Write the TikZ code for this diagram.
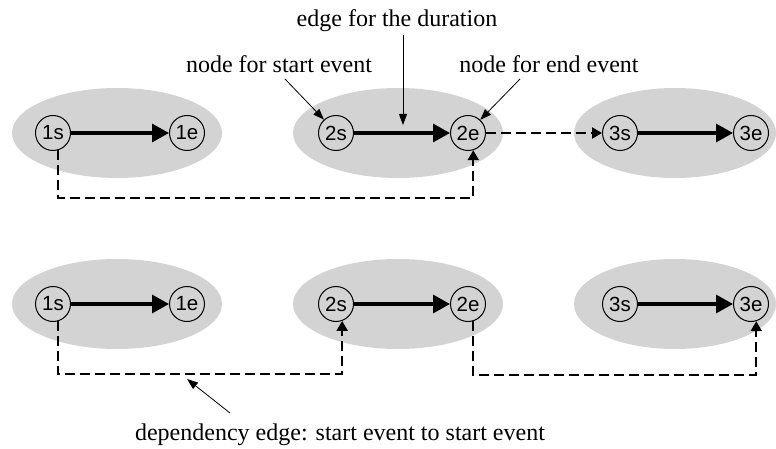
\documentclass[tikz,border=0pt]{standalone}
\usepackage{fontspec}
\setmainfont{Liberation Serif}
\newfontfamily\labfont{Liberation Sans}
\usetikzlibrary{arrows.meta}
\definecolor{blobgray}{RGB}{211,211,211}
\tikzset{
  blob/.style={fill=blobgray, draw=none},
  ev/.style={circle, draw=black, line width=1pt, minimum size=35pt, inner sep=0pt, font=\labfont\fontsize{20.5}{20.5}\selectfont},
  dur/.style={line width=3.2pt, -{Triangle[length=17pt,width=18pt]}},
  dep/.style={line width=2.2pt, dash pattern=on 10pt off 5pt, -{Triangle[length=10pt,width=11pt]}},
  ann/.style={line width=0.8pt, -{Triangle[length=11pt,width=8pt]}},
  anntext/.style={anchor=base, inner sep=0pt, font=\fontsize{24}{24}\selectfont}
}
\begin{document}
\begin{tikzpicture}[x=1pt,y=-1pt]
\useasboundingbox (0,0) rectangle (776,449);
% ellipses
\fill[blob] (117,133) ellipse [x radius=105, y radius=45];
\fill[blob] (398,133) ellipse [x radius=105, y radius=45];
\fill[blob] (675,133) ellipse [x radius=101, y radius=45];
\fill[blob] (117,304) ellipse [x radius=105, y radius=45];
\fill[blob] (398,304) ellipse [x radius=105, y radius=45];
\fill[blob] (675,304) ellipse [x radius=101, y radius=45];
% top row nodes
\node[ev] (t1s) at (53,133) {1s};
\node[ev] (t1e) at (187,133) {1e};
\node[ev] (t2s) at (336,133) {2s};
\node[ev] (t2e) at (468,133) {2e};
\node[ev] (t3s) at (620,133) {3s};
\node[ev] (t3e) at (751,133) {3e};
% bottom row nodes
\node[ev] (b1s) at (53,304) {1s};
\node[ev] (b1e) at (187,304) {1e};
\node[ev] (b2s) at (336,304) {2s};
\node[ev] (b2e) at (468,304) {2e};
\node[ev] (b3s) at (620,304) {3s};
\node[ev] (b3e) at (751,304) {3e};
% duration edges
\foreach \r in {t,b}{
  \draw[dur] (\r1s) -- (\r1e);
  \draw[dur] (\r2s) -- (\r2e);
  \draw[dur] (\r3s) -- (\r3e);
}
% dependency edges
\draw[dep] (t1s.-73) -- ++(0,48) -| (t2e.-73);
\draw[dep] (t2e.east) -- (t3s.west);
\draw[dep] (b1s.-73) -- ++(0,53) -| (b2s.-70);
\draw[dep] (b2e.-73) -- ++(0,54) -| (b3e.-73);
% annotations
\node[anntext] (adur) at (397,27) {edge for the duration};
\node[anntext] (astart) at (279,73) {node for start event};
\node[anntext] (aend) at (549,73) {node for end event};
\node[anntext] (adep) at (340,440) {dependency edge: start event to start event};
\coordinate (cdur) at (403,35);
\coordinate (cdurtip) at (403,125);
\coordinate (cstart) at (285,79);
\coordinate (cend) at (520,79);
\coordinate (cdep) at (230,413);
\coordinate (cdeptip) at (187,379);
\draw[ann] (cdur) -- (cdurtip);
\draw[ann] (cstart) -- (t2s.132);
\draw[ann] (cend) -- (t2e.47);
\draw[ann] (cdep) -- (cdeptip);
\end{tikzpicture}
\end{document}
